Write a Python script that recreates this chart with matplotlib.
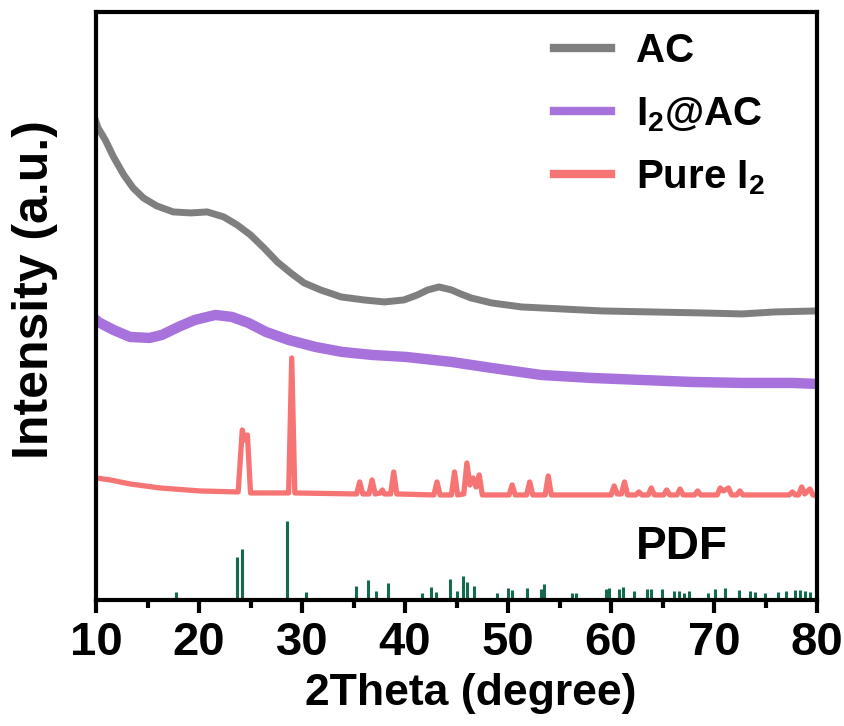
import numpy as np
import matplotlib
matplotlib.use('Agg')
import matplotlib.pyplot as plt
from matplotlib.ticker import MultipleLocator

plt.rcParams['font.family'] = 'Liberation Sans'
plt.rcParams['font.weight'] = 'bold'
plt.rcParams['mathtext.default'] = 'regular'

# AC (grey) pattern
ac_x = [10.0, 10.2, 10.9, 11.7, 12.7, 13.6, 14.6, 15.9, 17.5, 19.2, 20.8, 22.4, 23.7,
        25.0, 26.3, 27.6, 28.9, 30.2, 31.8, 33.8, 36.0, 38.0, 39.9, 41.2, 42.2, 43.3,
        44.5, 45.4, 46.4, 48.4, 51.3, 55.2, 59.1, 63.9, 68.8, 72.7, 75.9, 80.0]
ac_y = [478, 472, 460, 443, 425, 412, 402, 394, 388, 387, 388, 383, 375,
        365, 352, 338, 327, 317, 310, 303, 300, 298, 300, 305, 310, 313,
        310, 306, 302, 297, 293, 291, 289, 288, 287, 286, 288, 289]

# I2@AC (purple) pattern
iac_x = [10.0, 10.2, 11.7, 13.3, 15.2, 16.4, 18.0, 19.6, 21.6, 23.2, 24.8, 26.5, 28.7,
         31.3, 33.9, 36.8, 40.1, 44.5, 48.4, 53.2, 58.1, 62.9, 67.8, 72.7, 77.6, 80.0]
iac_y = [280, 278, 270, 263, 262, 265, 273, 280, 285, 283, 277, 268, 260,
         253, 248, 245, 243, 238, 232, 225, 222, 220, 218, 217, 217, 216]

# Pure I2 (red) pattern
i2_x = [10.0, 11.4, 13.3, 16.2, 20.1, 23.8, 24.2, 24.45, 24.7, 25.0, 28.7, 29.0, 29.3,
        35.3, 35.6, 35.9, 36.5, 36.8, 37.1, 37.6, 37.8, 38.0, 38.6, 38.9, 39.2,
        42.8, 43.1, 43.4, 44.5, 44.8, 45.1, 45.7, 46.0, 46.3, 46.6, 46.9, 47.2, 47.5,
        50.1, 50.4, 50.7, 51.8, 52.1, 52.4, 53.6, 53.9, 54.2,
        60.0, 60.3, 60.6, 61.0, 61.3, 61.6, 62.4, 62.7, 63.0, 63.6, 63.9, 64.2,
        65.1, 65.4, 65.7, 66.4, 66.7, 67.0, 68.1, 68.4, 68.7,
        70.3, 70.6, 70.9, 71.4, 71.7, 72.2, 72.5, 72.8,
        77.3, 77.6, 77.9, 78.2, 78.5, 78.8, 79.3, 79.6, 80.0]
i2_y = [122, 120, 116, 112, 109, 108, 170, 160, 165, 107, 107, 242, 107,
        106, 118, 106, 106, 120, 106, 107, 110, 106, 106, 128, 106,
        105, 118, 105, 105, 128, 105, 106, 137, 115, 122, 113, 125, 105,
        105, 115, 105, 105, 118, 105, 105, 124, 105,
        105, 114, 106, 106, 118, 105, 105, 108, 105, 105, 112, 105,
        105, 110, 105, 105, 111, 105, 105, 109, 105,
        105, 112, 109, 112, 105, 105, 109, 105,
        105, 108, 105, 105, 113, 106, 111, 105, 104]

# PDF reference sticks
pdf_pos = [17.8, 23.7, 24.2, 28.5, 30.4, 35.2, 36.4, 37.2, 38.3, 41.6, 42.5, 43.0,
           44.4, 45.0, 45.6, 46.0, 46.7, 48.9, 50.0, 50.4, 51.8, 53.2, 53.5, 56.2,
           56.6, 59.5, 59.8, 60.8, 61.2, 62.2, 63.5, 63.9, 64.9, 66.1, 66.6, 67.1,
           67.6, 69.4, 70.1, 71.1, 72.4, 73.5, 74.0, 74.9, 76.2, 77.0, 77.9, 78.3,
           78.8, 79.3]
pdf_h = [8, 43, 51, 79, 8, 14, 20, 9, 17, 7, 13, 8,
         21, 9, 24, 18, 14, 7, 12, 10, 12, 11, 16, 7,
         7, 11, 12, 11, 13, 9, 11, 11, 11, 9, 9, 7,
         9, 7, 11, 12, 10, 9, 8, 7, 8, 9, 10, 10,
         9, 8]

fig = plt.figure(figsize=(8.45, 7.26), dpi=100)
ax = fig.add_axes([0.1136, 0.1736, 0.8534, 0.81])

ax.plot(ac_x, ac_y, color='#7f7f7f', linewidth=5, label='AC')
ax.plot(iac_x, iac_y, color='#a772dc', linewidth=7.5, label='I$_2$@AC')
ax.plot(i2_x, i2_y, color='#f77474', linewidth=3.8, label='Pure I$_2$')
ax.vlines(pdf_pos, 0, pdf_h, color='#136b4b', linewidth=2.2)

ax.text(66.9, 53, 'PDF', fontsize=33, fontweight='bold', ha='center', va='center')

ax.set_xlim(10, 80)
ax.set_ylim(0, 588)
ax.set_yticks([])
ax.xaxis.set_major_locator(MultipleLocator(10))
ax.xaxis.set_minor_locator(MultipleLocator(5))
ax.tick_params(axis='x', which='major', direction='out', length=9, width=3,
               labelsize=34, pad=6)
ax.tick_params(axis='x', which='minor', direction='out', length=6, width=3)
for s in ax.spines.values():
    s.set_linewidth(3)

ax.set_xlabel('2Theta (degree)', fontsize=32, fontweight='bold')
ax.xaxis.set_label_coords(0.519, -0.124)
ax.set_ylabel('Intensity (a.u.)', fontsize=36, fontweight='bold')
ax.yaxis.set_label_coords(-0.053, 0.527)

leg = ax.legend(loc='upper right', bbox_to_anchor=(0.955, 1.0), frameon=False,
                fontsize=29, handlelength=1.42, handletextpad=0.62,
                labelspacing=0.62, borderaxespad=0.1)
for h in leg.get_lines():
    h.set_linewidth(6)

fig.savefig('out.png', dpi=100)
